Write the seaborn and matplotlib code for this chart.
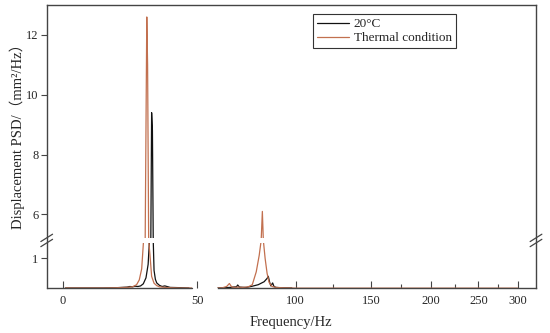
import numpy as np
import pandas as pd
import matplotlib
matplotlib.use("Agg")
import matplotlib.pyplot as plt
from matplotlib.patches import Rectangle
import seaborn as sns

# --- PSD readings (Hz, mm^2/Hz) ---
freq_20_a = [1, 5, 10, 15, 20, 22, 24, 25, 26, 27, 28, 29, 30, 31, 31.8, 32.3, 32.8,
             33.1, 33.4, 33.7, 34.0, 34.5, 35, 36, 37, 38, 40, 44, 47]
psd_20_a = [0.01, 0.01, 0.01, 0.01, 0.02, 0.03, 0.04, 0.06, 0.05, 0.07, 0.06, 0.08, 0.15,
            0.35, 0.8, 1.7, 4.0, 9.4, 8.8, 2.2, 0.6, 0.3, 0.18, 0.1, 0.06, 0.08, 0.03, 0.02, 0.01]
freq_20_b = [60.6, 64, 67, 68, 70, 70.6, 71.5, 74, 75, 78, 81, 84, 85.5, 86.1, 86.8, 87.4,
             88.3, 89, 90, 92, 98]
psd_20_b = [0.01, 0.02, 0.03, 0.04, 0.05, 0.11, 0.04, 0.03, 0.03, 0.07, 0.12, 0.22, 0.33,
            0.4, 0.2, 0.08, 0.18, 0.06, 0.03, 0.02, 0.01]

freq_th_a = [1, 5, 10, 15, 20, 24, 26, 27.5, 28.5, 29.4, 30.1, 30.7, 31.3, 31.6, 32.0,
             32.5, 33.1, 34, 35, 36, 38, 40, 44, 48]
psd_th_a = [0.01, 0.01, 0.01, 0.01, 0.02, 0.03, 0.05, 0.12, 0.28, 0.65, 1.6, 4.5, 12.6, 11.0,
            3.0, 1.1, 0.4, 0.17, 0.09, 0.05, 0.03, 0.02, 0.01, 0.01]
freq_th_b = [60.6, 63, 65, 66.4, 67.5, 69, 71, 73, 75, 76, 78, 80, 81.5, 82.5, 83.1, 83.6,
             84.5, 85.5, 86.5, 88, 90, 93, 98, 100, 150, 200, 250, 300]
psd_th_b = [0.01, 0.02, 0.06, 0.16, 0.05, 0.03, 0.04, 0.03, 0.04, 0.05, 0.12, 0.55, 1.1,
            1.8, 6.1, 2.2, 1.0, 0.5, 0.2, 0.06, 0.03, 0.02, 0.01, 0.005, 0.005, 0.005,
            0.005, 0.005]

labels = ["20°C", "Thermal condition"]
colors = {"20°C": "#111111", "Thermal condition": "#c2704f"}
x_ticks = [0, 50, 100, 150, 200, 250, 300]
x_minor = [125, 175, 225, 275]
y_ticks = [1, 6, 8, 10, 12]

parts = [(freq_20_a, psd_20_a, labels[0], 0), (freq_20_b, psd_20_b, labels[0], 1),
         (freq_th_a, psd_th_a, labels[1], 2), (freq_th_b, psd_th_b, labels[1], 3)]
df = pd.concat([pd.DataFrame({"freq": f, "psd": p, "cond": c, "seg": s})
                for f, p, c, s in parts], ignore_index=True)

# --- non-uniform frequency axis (tick spacing shrinks to the right) ---
fk = np.array([-100, 0, 50, 100, 150, 200, 250, 300, 400])
pk = np.array([-206, 62.7, 197, 295.7, 371, 430.7, 478.3, 517.7, 596.5])


def x_fwd(v):
    return np.interp(v, fk, pk)


def x_inv(v):
    return np.interp(v, pk, fk)


# --- broken y axis: 1.6 .. 5.13 is cut out ---
lo, hi = 1.6, 5.13


def y_fwd(v):
    v = np.asarray(v, dtype=float)
    return np.where(v <= lo, v, np.where(v >= hi, v - (hi - lo), lo))


def y_inv(v):
    v = np.asarray(v, dtype=float)
    return np.where(v <= lo, v, v + (hi - lo))


sns.set_style("ticks")
plt.rcParams["font.family"] = ["Liberation Serif", "Noto Sans CJK SC"]

fig = plt.figure(figsize=(5.5, 3.33), dpi=100)
ax = fig.add_axes([46.7 / 550, (333 - 288.3) / 333, (536 - 46.7) / 550, (288.3 - 5) / 333])
ax.set_xscale("function", functions=(x_fwd, x_inv))
ax.set_yscale("function", functions=(y_fwd, y_inv))

sns.lineplot(data=df, x="freq", y="psd", hue="cond", units="seg", estimator=None,
             palette=colors, hue_order=labels, lw=0.9, ax=ax)

xmin, xmax = -5.96, 323.2
ax.set_xlim(xmin, xmax)
ax.set_ylim(0, 13.0)
ax.set_xticks(x_ticks)
ax.set_xticks(x_minor, minor=True)
ax.set_yticks(y_ticks)
ax.set_xticklabels([str(t) for t in x_ticks])
ax.set_yticklabels([str(t) for t in y_ticks])

spine_c = "#444444"
for s in ax.spines.values():
    s.set_color(spine_c)
    s.set_linewidth(1.0)
    s.set_visible(True)
ax.tick_params(axis="x", which="major", direction="in", length=5, width=0.8,
               color=spine_c, labelsize=9, pad=5)
ax.tick_params(axis="x", which="minor", direction="in", length=3, width=0.8, color=spine_c)
ax.tick_params(axis="y", direction="out", length=4, width=0.8, color=spine_c,
               labelsize=9, pad=2)

# bottom axis line has a gap between the two data blocks
ax.spines["bottom"].set_bounds(60.6, xmax)
ax.plot([xmin, 48], [0, 0], transform=ax.get_xaxis_transform(), color=spine_c,
        lw=1.0, clip_on=False, zorder=2.4)

# gap in the lines at the break, plus // marks on both side spines
yb = lo / (13.0 - (hi - lo))
ax.add_patch(Rectangle((0, yb - 0.008), 1, 0.016, transform=ax.transAxes,
                       facecolor="white", edgecolor="none", zorder=2.3))
for xs in (0, 1):
    for dy in (-0.009, 0.009):
        ax.plot([xs - 0.012, xs + 0.012], [yb + dy - 0.013, yb + dy + 0.013],
                transform=ax.transAxes, color=spine_c, lw=0.9, clip_on=False, zorder=3)

ax.set_xlabel("Frequency/Hz", fontsize=10.5, labelpad=6)
ax.set_ylabel("Displacement PSD/（mm²/Hz）", fontsize=10.5, labelpad=3)
ax.yaxis.set_label_coords(-0.045, 0.55)

handles, labs = ax.get_legend_handles_labels()
leg = ax.legend(handles, labs, loc="upper right", bbox_to_anchor=(0.8365, 0.968),
                frameon=True, fancybox=False, edgecolor="#333333", framealpha=1,
                fontsize=9.5, handlelength=2.4, borderpad=0.3, labelspacing=0.15,
                handletextpad=0.4, borderaxespad=0)
leg.get_frame().set_linewidth(0.8)

fig.savefig("out.png", dpi=100)
